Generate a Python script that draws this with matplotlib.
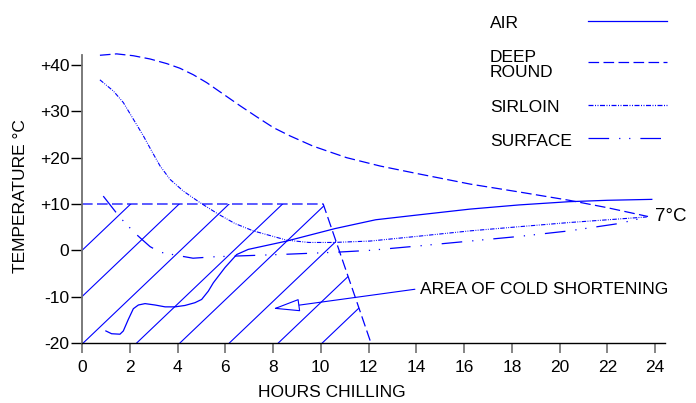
import numpy as np
import matplotlib
matplotlib.use("Agg")
import matplotlib.pyplot as plt
from matplotlib.patches import Polygon
from matplotlib.lines import Line2D

plt.rcParams['font.family'] = ['Liberation Sans', 'DejaVu Sans']

BLUE = '#0000ff'

# curves (hours, deg C)
air_h = [1.0, 1.24, 1.59, 1.73, 1.94, 2.15, 2.36, 2.64, 3.06, 3.48, 3.89, 4.31, 4.73, 5.01,
         5.29, 5.5, 5.99, 6.48, 6.96, 8.57, 10.6, 12.3, 14.0, 16.25, 18.3, 20.4, 22.0, 23.86]
air_t = [-17.4, -18.0, -18.1, -17.4, -14.9, -12.6, -11.8, -11.5, -11.8, -12.2, -12.2, -11.9, -11.3, -10.6,
         -8.8, -7.0, -3.7, -0.9, 0.2, 2.0, 4.7, 6.6, 7.6, 8.9, 9.8, 10.5, 10.8, 11.0]

deep_h = [0.75, 1.45, 2.15, 2.85, 3.55, 4.1, 4.66, 5.22, 5.92, 6.62, 7.32, 8.01, 8.71,
          9.67, 10.4, 11.08, 12.48, 14.0, 16.25, 18.3, 20.4, 22.0, 23.7]
deep_t = [42.1, 42.4, 42.0, 41.3, 40.3, 39.3, 37.9, 36.2, 33.7, 31.2, 28.8, 26.5, 24.7,
          22.5, 21.2, 20.0, 18.2, 16.6, 14.3, 12.6, 10.8, 9.2, 7.3]

sirloin_h = [0.75, 1.31, 1.73, 2.15, 2.57, 2.92, 3.27, 3.69, 4.24, 4.94, 5.71, 6.4, 7.17,
             8.57, 9.5, 10.52, 12.06, 14.0, 16.25, 18.3, 20.4, 23.65]
sirloin_t = [36.8, 34.4, 31.9, 28.3, 24.7, 21.4, 18.2, 15.3, 12.8, 10.3, 7.8, 5.8, 4.2,
             2.2, 1.7, 1.7, 2.0, 3.0, 4.2, 5.1, 6.0, 7.2]

surface_h = [0.89, 1.59, 1.94, 2.22, 2.5, 2.85, 3.27, 4.1, 4.65, 5.5, 8.29, 10.67, 12.06,
             14.2, 16.25, 18.3, 20.4, 22.5, 23.65]
surface_t = [11.7, 7.1, 5.2, 3.7, 2.4, 0.8, -0.4, -1.2, -1.7, -1.4, -0.9, -0.4, 0.0,
             1.0, 2.0, 3.0, 4.2, 5.8, 7.2]

# cold shortening zone and its hatching
zone_h = [0, 10.1, 12.1, 0]
zone_t = [10, 10, -20, -20]
hatch_starts = [-4.07, -2.04, 0.05, 2.29, 4.1, 6.17, 8.22, 10.06]
hatch_slope = 4.91

x_ticks = [0, 2, 4, 6, 8, 10, 12, 14, 16, 18, 20, 22, 24]
y_ticks = [-20, -10, 0, 10, 20, 30, 40]
y_labels = ['-20', '-10', '0', '+10', '+20', '+30', '+40']

dash_deep = (0, (8.5, 3.5))
dash_sirloin = (0, (4, 1.2, 0.8, 1.2, 0.8, 1.2))
dash_surface = (0, (16.5, 8, 1, 7, 1, 8))

FS = 12.5

fig = plt.figure(figsize=(6.96, 4.03), dpi=100)
ax = fig.add_axes([82 / 696, 60 / 403, 582.7 / 696, 291.9 / 403])

ax.plot(air_h, air_t, color=BLUE, lw=0.9)
ax.plot(deep_h, deep_t, color=BLUE, lw=0.9, linestyle=dash_deep)
ax.plot(sirloin_h, sirloin_t, color=BLUE, lw=0.8, linestyle=dash_sirloin)
ax.plot(surface_h, surface_t, color=BLUE, lw=0.9, linestyle=dash_surface)

# zone outline (top and right edges)
ax.plot(zone_h[:3], zone_t[:3], color=BLUE, lw=0.9, linestyle=dash_deep)
zone = Polygon(list(zip(zone_h, zone_t)), closed=True, transform=ax.transData)
for h0 in hatch_starts:
    ln, = ax.plot([h0, h0 + 30 / hatch_slope], [-20, 10], color=BLUE, lw=0.8)
    ln.set_clip_path(zone)

ax.annotate('', xy=(8.0, -12.6), xytext=(13.94, -8.4),
            arrowprops=dict(arrowstyle='-|>,head_length=1.7,head_width=0.4',
                            fc='white', ec=BLUE, lw=0.8, shrinkA=0, shrinkB=0,
                            mutation_scale=10))
ax.text(14.15, -8.5, 'AREA OF COLD SHORTENING', fontsize=FS, ha='left', va='center')
ax.text(24.0, 7.2, '7°C', fontsize=13.5, ha='left', va='center')

ax.set_xlim(0, 24.4)
ax.set_ylim(-20, 43)
ax.set_xticks(x_ticks)
ax.set_yticks(y_ticks)
ax.set_yticklabels(y_labels)
ax.tick_params(axis='x', length=7, width=1.2, color='#707070', labelsize=FS, pad=5)
ax.tick_params(axis='y', length=8, width=1, color='black', labelsize=FS, pad=1)
for s in ['top', 'right']:
    ax.spines[s].set_visible(False)
ax.spines['left'].set_color('#707070')
ax.spines['left'].set_linewidth(1.3)
ax.spines['left'].set_bounds(-20, 42.2)
ax.spines['bottom'].set_linewidth(1)

ax.set_xlabel('HOURS CHILLING', fontsize=FS, va='center')
ax.xaxis.set_label_coords(0.429, -0.171)
ax.set_ylabel('TEMPERATURE °C', fontsize=FS, va='center')
ax.yaxis.set_label_coords(-0.105, 0.504)

# hand-placed key
key_labels = ['AIR', 'DEEP\nROUND', 'SIRLOIN', 'SURFACE']
key_text_y = [23, 65, 108, 141]
key_line_y = [20.7, 62.3, 105, 138.3]
key_styles = ['-', dash_deep, dash_sirloin, dash_surface]
for lab, ty, ly, ls in zip(key_labels, key_text_y, key_line_y, key_styles):
    fig.text(490 / 696, 1 - ty / 403, lab, fontsize=FS, ha='left', va='center', linespacing=0.95)
    fig.add_artist(Line2D([588 / 696, 667 / 696], [1 - ly / 403, 1 - ly / 403],
                          color=BLUE, lw=0.9, linestyle=ls, transform=fig.transFigure))

fig.savefig('out.png', dpi=100)
